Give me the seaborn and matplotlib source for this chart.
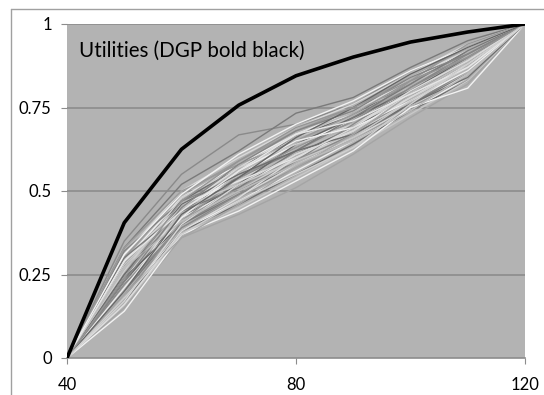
import matplotlib
matplotlib.use("Agg")
import matplotlib.pyplot as plt
from matplotlib.lines import Line2D
import seaborn as sns
import pandas as pd

# ---- data ----
x_values = [40, 50, 60, 70, 80, 90, 100, 110, 120]
dgp_utility = [0, 0.405, 0.625, 0.757, 0.845, 0.901, 0.946, 0.976, 1.0]

sim_01 = [0, 0.35, 0.55, 0.668, 0.70, 0.76, 0.86, 0.93, 1]
sim_02 = [0, 0.33, 0.52, 0.62, 0.733, 0.78, 0.87, 0.95, 1]
sim_03 = [0, 0.31, 0.50, 0.60, 0.69, 0.76, 0.85, 0.94, 1]
sim_04 = [0, 0.30, 0.49, 0.59, 0.68, 0.75, 0.84, 0.93, 1]
sim_05 = [0, 0.29, 0.48, 0.58, 0.67, 0.74, 0.83, 0.92, 1]
sim_06 = [0, 0.28, 0.47, 0.57, 0.66, 0.73, 0.82, 0.92, 1]
sim_07 = [0, 0.27, 0.46, 0.56, 0.66, 0.72, 0.82, 0.91, 1]
sim_08 = [0, 0.26, 0.45, 0.56, 0.65, 0.72, 0.81, 0.90, 1]
sim_09 = [0, 0.25, 0.44, 0.55, 0.64, 0.71, 0.80, 0.90, 1]
sim_10 = [0, 0.25, 0.44, 0.54, 0.63, 0.70, 0.80, 0.89, 1]
sim_11 = [0, 0.24, 0.43, 0.53, 0.63, 0.70, 0.79, 0.89, 1]
sim_12 = [0, 0.23, 0.43, 0.53, 0.62, 0.69, 0.79, 0.88, 1]
sim_13 = [0, 0.23, 0.42, 0.52, 0.61, 0.69, 0.78, 0.88, 1]
sim_14 = [0, 0.22, 0.42, 0.51, 0.61, 0.68, 0.78, 0.87, 1]
sim_15 = [0, 0.22, 0.41, 0.51, 0.60, 0.68, 0.77, 0.87, 1]
sim_16 = [0, 0.21, 0.41, 0.50, 0.60, 0.67, 0.77, 0.86, 1]
sim_17 = [0, 0.21, 0.40, 0.50, 0.59, 0.67, 0.76, 0.86, 1]
sim_18 = [0, 0.20, 0.40, 0.49, 0.58, 0.66, 0.76, 0.85, 1]
sim_19 = [0, 0.19, 0.39, 0.48, 0.58, 0.66, 0.75, 0.85, 1]
sim_20 = [0, 0.19, 0.39, 0.48, 0.57, 0.65, 0.75, 0.84, 1]
sim_21 = [0, 0.18, 0.38, 0.47, 0.56, 0.65, 0.74, 0.84, 1]
sim_22 = [0, 0.17, 0.38, 0.46, 0.55, 0.64, 0.74, 0.83, 1]
sim_23 = [0, 0.16, 0.37, 0.45, 0.54, 0.63, 0.73, 0.83, 1]
sim_24 = [0, 0.15, 0.36, 0.43, 0.51, 0.61, 0.72, 0.82, 1]
sim_25 = [0, 0.14, 0.37, 0.44, 0.53, 0.62, 0.75, 0.808, 1]
sim_26 = [0, 0.32, 0.47, 0.54, 0.62, 0.71, 0.81, 0.91, 1]
sim_27 = [0, 0.20, 0.45, 0.57, 0.67, 0.73, 0.84, 0.92, 1]
sim_28 = [0, 0.27, 0.43, 0.55, 0.66, 0.74, 0.81, 0.88, 1]
sim_29 = [0, 0.24, 0.40, 0.52, 0.64, 0.72, 0.80, 0.90, 1]
sim_30 = [0, 0.29, 0.46, 0.53, 0.60, 0.68, 0.79, 0.89, 1]
sim_31 = [0, 0.18, 0.41, 0.54, 0.63, 0.71, 0.83, 0.91, 1]
sim_32 = [0, 0.26, 0.48, 0.57, 0.64, 0.70, 0.78, 0.87, 1]
sim_33 = [0, 0.22, 0.39, 0.49, 0.59, 0.70, 0.81, 0.90, 1]
sim_34 = [0, 0.30, 0.44, 0.51, 0.62, 0.72, 0.82, 0.92, 1]
sim_35 = [0, 0.17, 0.40, 0.52, 0.61, 0.68, 0.78, 0.88, 1]
sim_36 = [0, 0.33, 0.50, 0.58, 0.65, 0.73, 0.83, 0.94, 1]
sim_37 = [0, 0.21, 0.42, 0.56, 0.65, 0.69, 0.77, 0.86, 1]
sim_38 = [0, 0.25, 0.46, 0.55, 0.62, 0.67, 0.76, 0.84, 1]
sim_39 = [0, 0.28, 0.45, 0.52, 0.59, 0.66, 0.77, 0.87, 1]
sim_40 = [0, 0.19, 0.36, 0.46, 0.57, 0.67, 0.79, 0.89, 1]
sim_41 = [0, 0.31, 0.49, 0.61, 0.70, 0.77, 0.86, 0.93, 1]
sim_42 = [0, 0.23, 0.45, 0.58, 0.68, 0.74, 0.84, 0.91, 1]
sim_43 = [0, 0.16, 0.38, 0.48, 0.60, 0.69, 0.80, 0.89, 1]
sim_44 = [0, 0.27, 0.41, 0.50, 0.58, 0.65, 0.74, 0.85, 1]
sim_45 = [0, 0.20, 0.43, 0.54, 0.66, 0.75, 0.85, 0.93, 1]
sim_46 = [0, 0.29, 0.44, 0.56, 0.67, 0.71, 0.79, 0.87, 1]
sim_47 = [0, 0.24, 0.47, 0.59, 0.69, 0.75, 0.83, 0.90, 1]
sim_48 = [0, 0.18, 0.37, 0.47, 0.55, 0.63, 0.76, 0.88, 1]

sim_runs = [sim_01, sim_02, sim_03, sim_04, sim_05, sim_06, sim_07, sim_08,
            sim_09, sim_10, sim_11, sim_12, sim_13, sim_14, sim_15, sim_16,
            sim_17, sim_18, sim_19, sim_20, sim_21, sim_22, sim_23, sim_24,
            sim_25, sim_26, sim_27, sim_28, sim_29, sim_30, sim_31, sim_32,
            sim_33, sim_34, sim_35, sim_36, sim_37, sim_38, sim_39, sim_40,
            sim_41, sim_42, sim_43, sim_44, sim_45, sim_46, sim_47, sim_48]

x_ticks = [40, 80, 120]
y_ticks = [0, 0.25, 0.5, 0.75, 1]
y_tick_labels = ["0", "0.25", "0.5", "0.75", "1"]
title_text = "Utilities (DGP bold black)"

# ---- styles ----
gray_levels = ["#8a8a8a", "#7a7a7a", "#d8d8d8", "#9a9a9a", "#eeeeee", "#6e6e6e",
               "#c8c8c8", "#a5a5a5", "#f2f2f2", "#858585", "#dcdcdc", "#bcbcbc",
               "#666666", "#e6e6e6", "#959595", "#cfcfcf"]

rows = []
for i, run in enumerate(sim_runs):
    for xv, yv in zip(x_values, run):
        rows.append({"run": f"r{i:02d}", "x": xv, "u": yv})
df = pd.DataFrame(rows)
dgp_df = pd.DataFrame({"x": x_values, "u": dgp_utility})

sns.set_style("white")
plt.rcParams["font.family"] = ["Lato", "DejaVu Sans"]

fig = plt.figure(figsize=(5.44, 3.95), dpi=100)
ax = fig.add_axes([67 / 544, 1 - 358 / 395, (525 - 67) / 544, (358 - 24) / 395])
ax.set_facecolor("#b3b3b3")

palette = [gray_levels[i % len(gray_levels)] for i in range(len(sim_runs))]
sns.lineplot(data=df, x="x", y="u", hue="run", palette=palette,
             linewidth=1.0, legend=False, ax=ax, zorder=3)
sns.lineplot(data=dgp_df, x="x", y="u", color="black", linewidth=2.6,
             ax=ax, zorder=4)

ax.set_xlim(40, 120)
ax.set_ylim(0, 1)
ax.set_xticks(x_ticks)
ax.set_yticks(y_ticks)
ax.set_yticklabels(y_tick_labels)
ax.set_xlabel("")
ax.set_ylabel("")
for yv in y_ticks[1:]:
    ax.axhline(yv, color="#8c8c8c", linewidth=1.2, zorder=1)

for s in ["top", "right", "left"]:
    ax.spines[s].set_visible(False)
ax.spines["bottom"].set_color("#8c8c8c")
ax.spines["bottom"].set_linewidth(1.2)
ax.spines["bottom"].set_zorder(2)

ax.tick_params(axis="y", left=True, length=4, width=0.8, color="#8c8c8c",
               pad=7, labelsize=12, labelcolor="black")
ax.tick_params(axis="x", bottom=True, length=4.5, width=0.8, color="#8c8c8c",
               pad=9, labelsize=12, labelcolor="black")

ax.text(42.1, 0.901, title_text, fontsize=14.8, color="black",
        ha="left", va="baseline", zorder=5)

# chart area border
fig.add_artist(Line2D([11 / 544, 11 / 544], [0, 1 - 9 / 395],
                      transform=fig.transFigure, color="#a0a0a0", linewidth=1))
fig.add_artist(Line2D([11 / 544, 1], [1 - 9 / 395, 1 - 9 / 395],
                      transform=fig.transFigure, color="#a0a0a0", linewidth=1))

fig.savefig("out.png", dpi=100)
